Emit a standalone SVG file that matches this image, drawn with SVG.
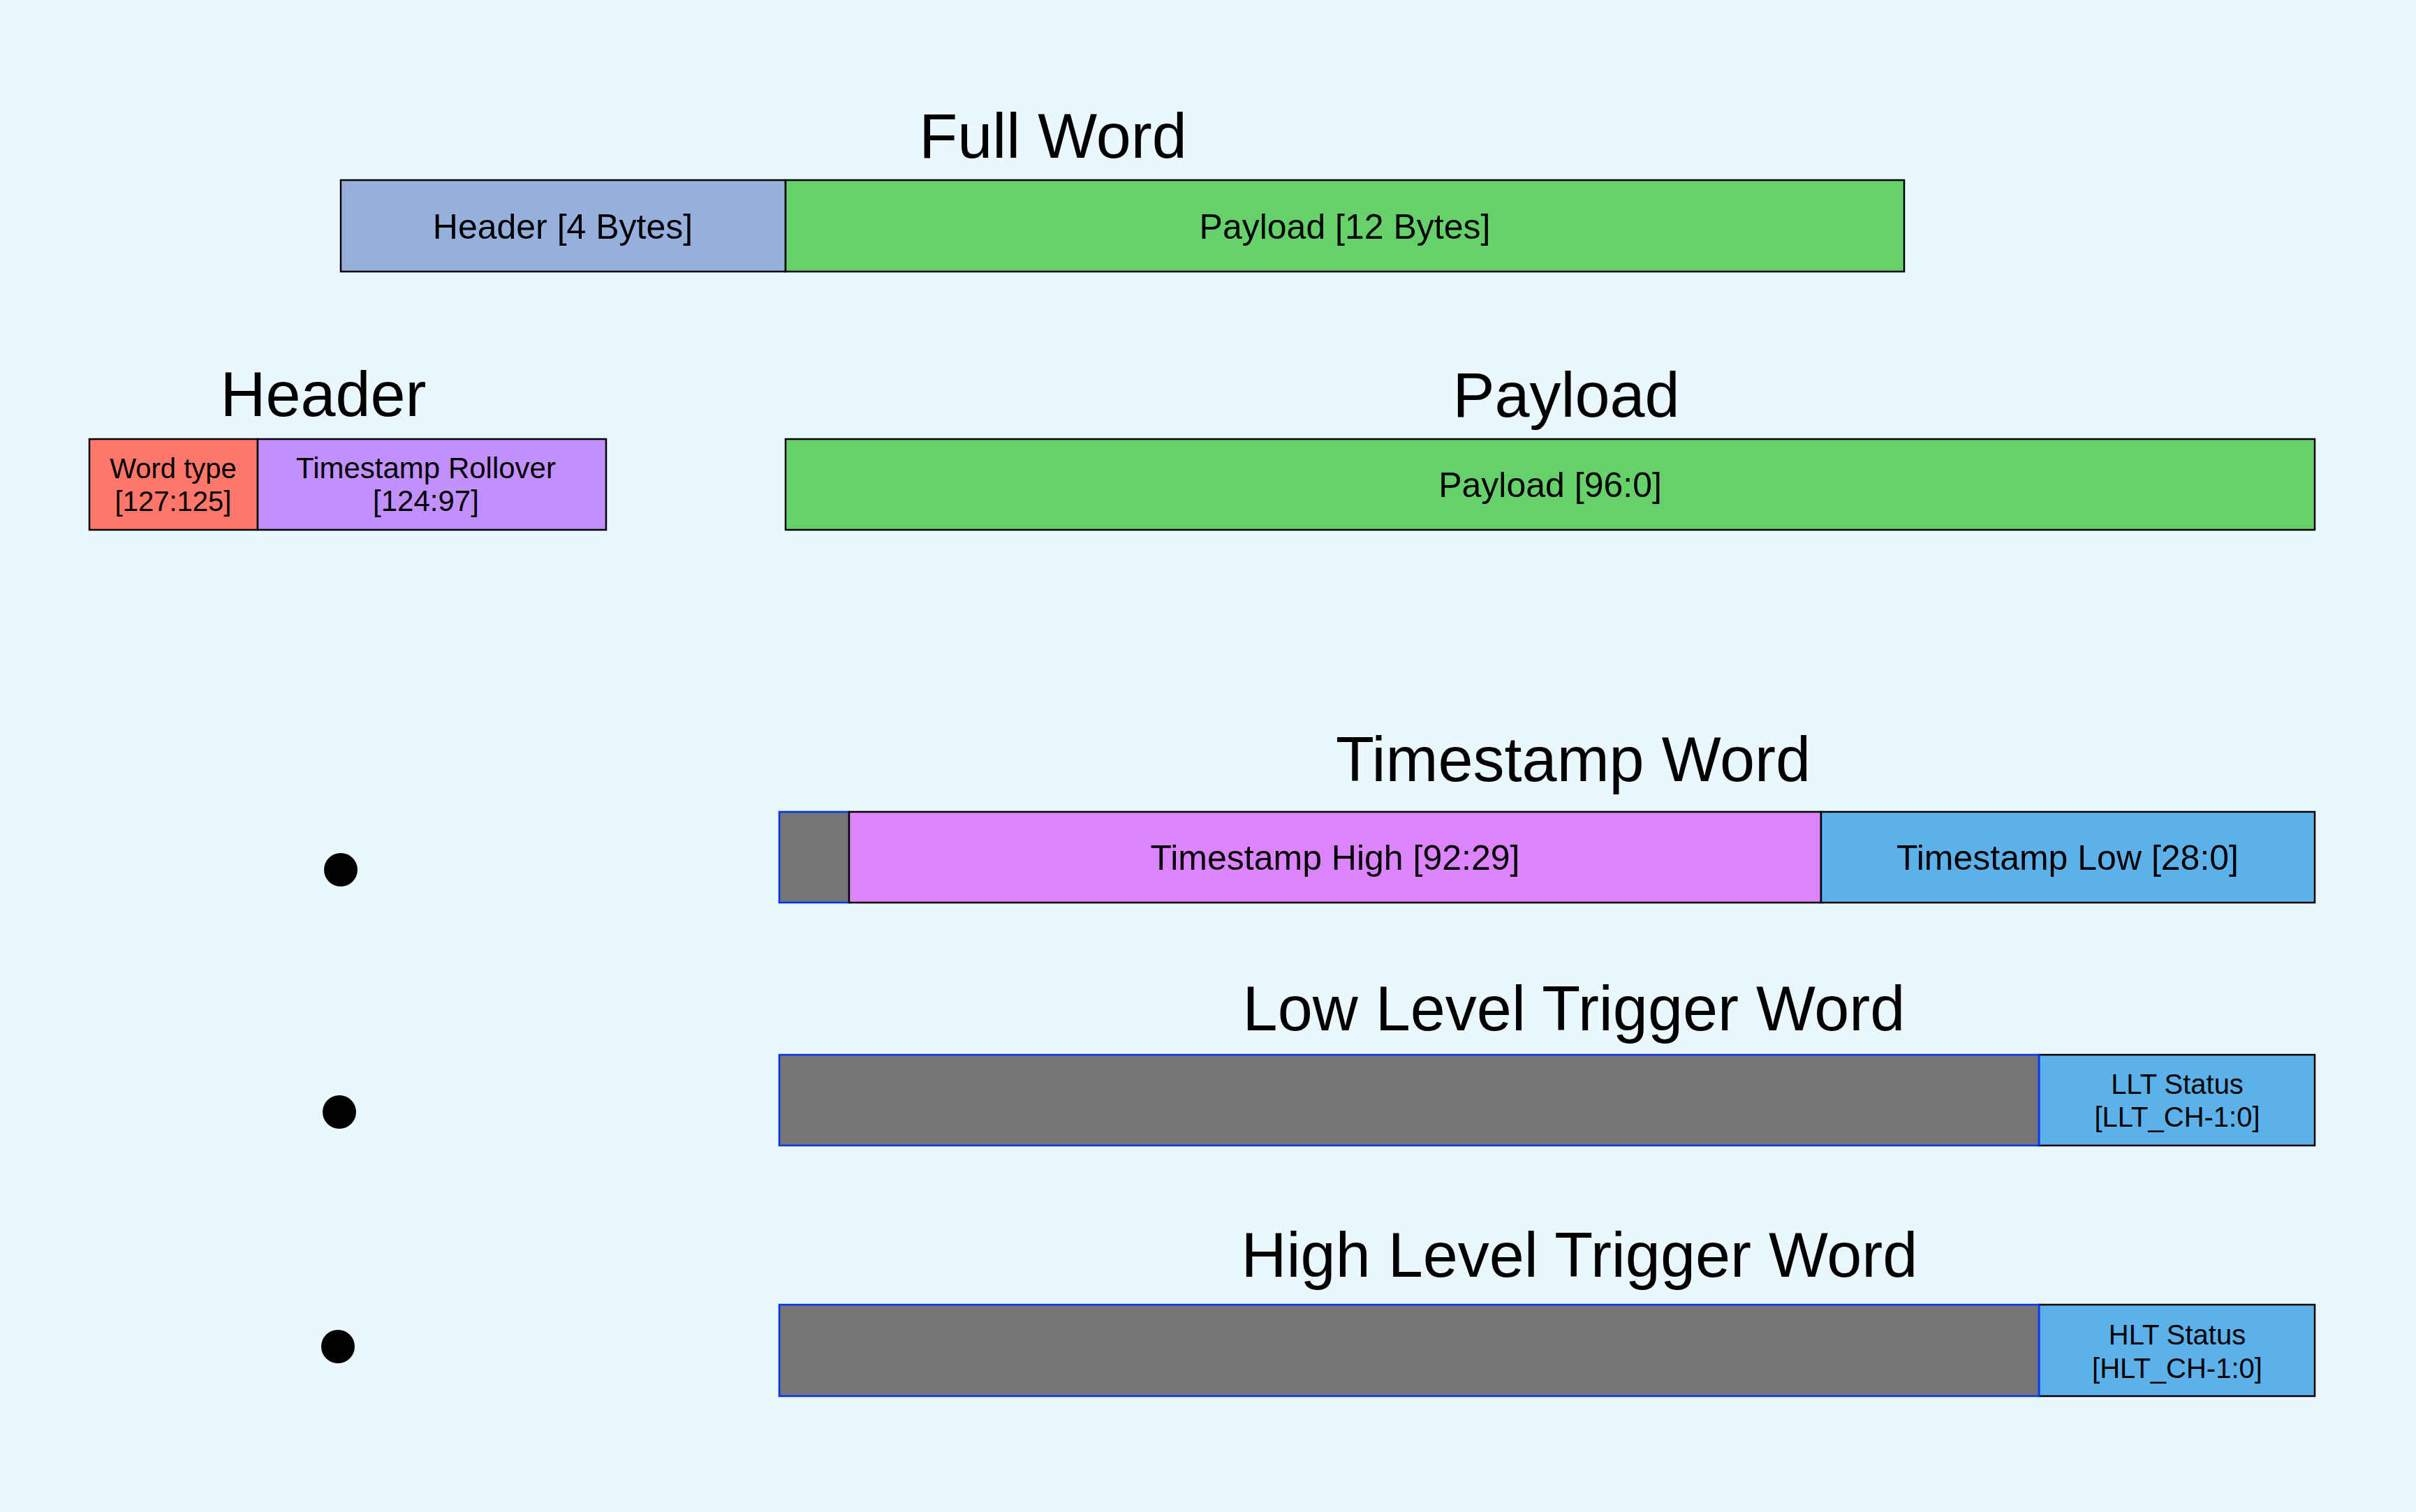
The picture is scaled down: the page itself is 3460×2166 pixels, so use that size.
<svg xmlns="http://www.w3.org/2000/svg" width="3460" height="2166" viewBox="0 0 3460 2166">
<style>
.title{font-family:"Liberation Sans",Arial,sans-serif;font-size:90px;fill:#000;text-anchor:middle}
.lbl{font-family:"Liberation Sans",Arial,sans-serif;font-size:50px;fill:#000;text-anchor:middle}
.sm{font-family:"Liberation Sans",Arial,sans-serif;font-size:40px;fill:#000;text-anchor:middle}
.box{stroke:#000;stroke-width:2.5}
.pad{fill:#757575;stroke:#0033ff;stroke-width:2.5}
</style>
<rect x="0" y="0" width="3460" height="2166" fill="#eaf7fd"/>

<g id="full-word">
<text class="title" x="1508" y="226">Full Word</text>
<rect class="box" x="488" y="258" width="637" height="131" fill="#95b0dd"/>
<text class="lbl" x="806" y="342">Header [4 Bytes]</text>
<rect class="box" x="1125" y="258" width="1602" height="131" fill="#66d16a"/>
<text class="lbl" x="1926" y="342">Payload [12 Bytes]</text>
</g>

<g id="header">
<text class="title" x="463" y="596">Header</text>
<rect class="box" x="128" y="629" width="241" height="130" fill="#ff776b"/>
<text class="sm" x="248" y="685">Word type</text>
<text class="sm" x="248" y="732">[127:125]</text>
<rect class="box" x="369" y="629" width="499" height="130" fill="#c190fc"/>
<text class="sm" x="610" y="685" style="font-size:42px">Timestamp Rollover</text>
<text class="sm" x="610" y="732" style="font-size:42px">[124:97]</text>
</g>

<g id="payload">
<text class="title" x="2243" y="597">Payload</text>
<rect class="box" x="1125" y="629" width="2190" height="130" fill="#66d16a"/>
<text class="lbl" x="2220" y="712">Payload [96:0]</text>
</g>

<g id="timestamp-word">
<text class="title" x="2253" y="1119">Timestamp Word</text>
<rect class="pad" x="1116" y="1163" width="100" height="130"/>
<rect class="box" x="1216" y="1163" width="1392" height="130" fill="#dc84fc"/>
<text class="lbl" x="1912" y="1246">Timestamp High [92:29]</text>
<rect class="box" x="2608" y="1163" width="707" height="130" fill="#5cb1ea"/>
<text class="lbl" x="2961" y="1246">Timestamp Low [28:0]</text>
</g>

<g id="llt-word">
<text class="title" x="2254" y="1476">Low Level Trigger Word</text>
<rect class="box" x="2920" y="1511" width="395" height="130" fill="#5cb1ea"/>
<rect class="pad" x="1116" y="1511" width="1804" height="130"/>
<text class="sm" x="3118" y="1567">LLT Status</text>
<text class="sm" x="3118" y="1614">[LLT_CH-1:0]</text>
</g>

<g id="hlt-word">
<text class="title" x="2262" y="1829">High Level Trigger Word</text>
<rect class="box" x="2920" y="1869" width="395" height="131" fill="#5cb1ea"/>
<rect class="pad" x="1116" y="1869" width="1804" height="131"/>
<text class="sm" x="3118" y="1926">HLT Status</text>
<text class="sm" x="3118" y="1974">[HLT_CH-1:0]</text>
</g>

<g id="dots">
<circle cx="488" cy="1246" r="24" fill="#000"/>
<circle cx="486" cy="1593" r="24" fill="#000"/>
<circle cx="484" cy="1929" r="24" fill="#000"/>
</g>

<g id="connectors"/>
</svg>
